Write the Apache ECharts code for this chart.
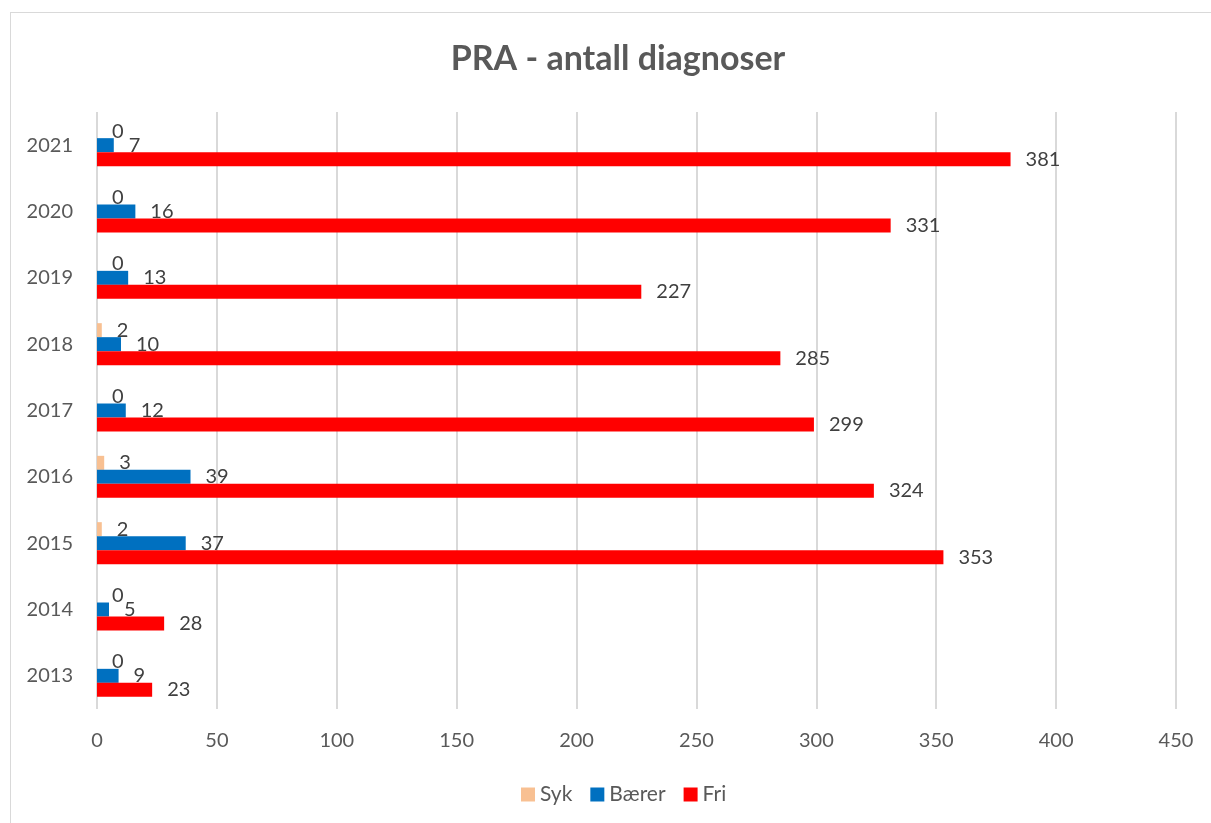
<!DOCTYPE html>
<html lang="no">

<head>
    <meta charset="UTF-8">
    <script src="https://cdn.jsdelivr.net/npm/echarts@6/dist/echarts.min.js"></script>
    <title>PRA - antall diagnoser</title>
    <style>
        body { margin: 0; background: #fff; }
        #frame { position: absolute; left: 10px; top: 12px; width: 1220px; height: 830px; border: 1px solid #d9d9d9; box-sizing: border-box; }
        #main { position: absolute; left: 0; top: 0; width: 1211px; height: 823px; }
    </style>
</head>

<body>
    <div id="frame"></div>
    <div id="main"></div>

    <script>
        var years = ['2013', '2014', '2015', '2016', '2017', '2018', '2019', '2020', '2021'];
        var syk = [0, 0, 2, 3, 0, 2, 0, 0, 0];
        var baerer = [9, 5, 37, 39, 12, 10, 13, 16, 7];
        var fri = [23, 28, 353, 324, 299, 285, 227, 331, 381];
        var xTicks = [0, 50, 100, 150, 200, 250, 300, 350, 400, 450];

        var font = 'Lato, "Noto Sans", sans-serif';
        var textColor = '#595959';

        function labelStyle() {
            return {
                show: true,
                position: 'right',
                distance: 15,
                color: '#404040',
                fontSize: 20,
                fontFamily: font
            };
        }

        var myChart = echarts.init(document.getElementById('main'));
        var option = {
            animation: false,
            title: {
                text: 'PRA - antall diagnoser',
                left: 613,
                textAlign: 'center',
                top: 37,
                textStyle: { color: textColor, fontSize: 34, fontWeight: 'bold', fontFamily: font }
            },
            legend: {
                data: ['Syk', 'Bærer', 'Fri'],
                left: 516,
                bottom: 13,
                itemWidth: 14,
                itemHeight: 14,
                itemGap: 18,
                icon: 'rect',
                textStyle: { color: textColor, fontSize: 21, fontFamily: font }
            },
            grid: { left: 97, right: 35, top: 112, bottom: 114 },
            xAxis: {
                type: 'value',
                min: 0,
                max: 450,
                interval: 50,
                axisLine: { show: false },
                axisTick: { show: false },
                axisLabel: {
                    color: textColor, fontSize: 20, fontFamily: font, margin: 22,
                    formatter: function (v) { return xTicks.indexOf(v) >= 0 ? String(v) : ''; }
                },
                splitLine: { lineStyle: { color: '#d9d9d9', width: 2 } }
            },
            yAxis: {
                type: 'category',
                data: years,
                axisLine: { show: false },
                axisTick: { show: false },
                axisLabel: { color: textColor, fontSize: 20, fontFamily: font, margin: 24 }
            },
            series: [
                {
                    name: 'Syk', type: 'bar', data: syk, barWidth: 14, barGap: '0%',
                    itemStyle: { color: '#f8c092' }, label: labelStyle()
                },
                {
                    name: 'Bærer', type: 'bar', data: baerer, barWidth: 14, barGap: '0%',
                    itemStyle: { color: '#0070c0' }, label: labelStyle()
                },
                {
                    name: 'Fri', type: 'bar', data: fri, barWidth: 14, barGap: '0%',
                    itemStyle: { color: '#ff0000' }, label: labelStyle()
                }
            ]
        };
        myChart.setOption(option);
    </script>
</body>

</html>
